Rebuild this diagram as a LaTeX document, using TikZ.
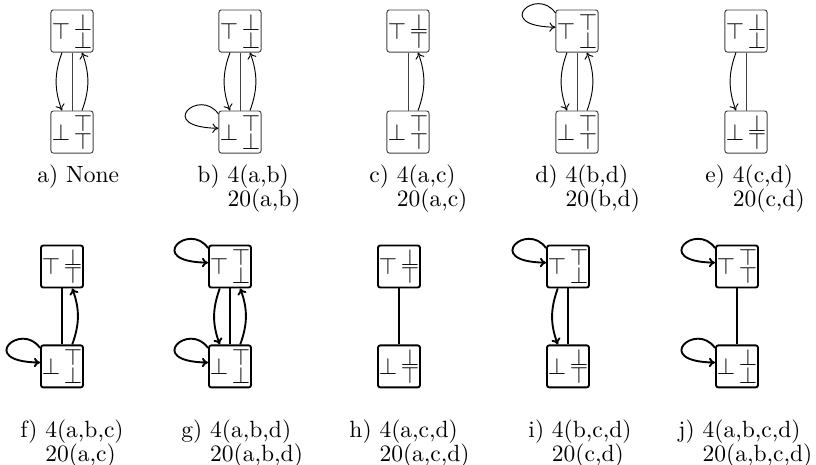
\documentclass[tikz,border=0pt]{standalone}
\usepackage{amsmath,amssymb}
\usepackage{tikz}
\usetikzlibrary{arrows.meta,positioning}

\newcommand{\tbsym}[1]{\if#1t\top\else\bot\fi}
\newcommand{\cellstk}[2]{\vcenter{\offinterlineskip\hbox{$\tbsym{#1}$}\kern0.6pt\hbox{$\tbsym{#2}$}}}
\newcommand{\cellone}[1]{\vcenter{\hbox{$#1$}}}
\newcommand{\caselbl}[3]{\begin{tabular}[t]{@{}l@{ }l@{}}#1) & #2\\ & #3\end{tabular}}
\renewcommand{\arraystretch}{0.8}

\begin{document}
\begin{tikzpicture}[
  x=0.4255pt,y=0.4255pt,
  node distance=24.7pt,
  cell/.style={draw=black!75,rounded corners=1pt,minimum size=17.9pt,inner sep=0pt},
  arrow/.style={-{To[length=2.6pt,width=4pt]}},
  lbl/.style={anchor=base west,inner sep=0pt}
]
\useasboundingbox (0,0) rectangle (816,-464);
% top row
\foreach \n/\x/\p/\q/\r/\s in {a/72/b/b/t/t,b/240/b/b/t/b,c/408/b/t/t/t,d/577/t/b/t/t,e/746/b/b/b/t}{
  \node[cell] (\n1) at (\x,-31) {$\cellone{\top}\,\cellstk{\p}{\q}$};
  \node[cell,below=of \n1] (\n2) {$\cellone{\bot}\,\cellstk{\r}{\s}$};
  \draw[black!75] (\n1) -- (\n2);
}
\foreach \n in {a,b,d,e}
  \draw[arrow] (\n1.-115) to[bend right=20] (\n2.115);
\foreach \n in {a,b,c,d}
  \draw[arrow] (\n2.65) to[bend right=20] (\n1.-65);
\foreach \m in {b2,d1}
  \draw[arrow] (\m.140) .. controls +(-19,27) and +(-64,1) .. (\m.170);
% bottom row
\begin{scope}[line width=0.8pt,node distance=23.8pt,cell/.append style={draw=black}]
\foreach \n/\x/\p/\q/\r/\s in {f/62/b/t/t/b,g/230/t/b/t/b,h/399/b/t/b/t,i/568/t/b/b/t,j/737/t/t/b/b}{
  \node[cell] (\n1) at (\x,-266.5) {$\cellone{\top}\,\cellstk{\p}{\q}$};
  \node[cell,below=of \n1] (\n2) {$\cellone{\bot}\,\cellstk{\r}{\s}$};
  \draw (\n1) -- (\n2);
}
\foreach \n in {g,i}
  \draw[arrow] (\n1.-115) to[bend right=20] (\n2.115);
\foreach \n in {f,g}
  \draw[arrow] (\n2.65) to[bend right=20] (\n1.-65);
\foreach \m in {f2,g1,g2,i1,j1,j2}
  \draw[arrow] (\m.140) .. controls +(-19,27) and +(-64,1) .. (\m.170);
\end{scope}
% captions
\node[lbl] (la) at (37,-182) {a) None};
\node[lbl] (lb) at (197,-182) {\caselbl{b}{4(a,b)}{20(a,b)}};
\node[lbl] (lc) at (369,-182) {\caselbl{c}{4(a,c)}{20(a,c)}};
\node[lbl] (ld) at (535,-182) {\caselbl{d}{4(b,d)}{20(b,d)}};
\node[lbl] (le) at (705,-182) {\caselbl{e}{4(c,d)}{20(c,d)}};
\node[lbl] (lf) at (20,-437) {\caselbl{f}{4(a,b,c)}{20(a,c)}};
\node[lbl] (lg) at (181,-437) {\caselbl{g}{4(a,b,d)}{20(a,b,d)}};
\node[lbl] (lh) at (349,-437) {\caselbl{h}{4(a,c,d)}{20(a,c,d)}};
\node[lbl] (li) at (528,-437) {\caselbl{i}{4(b,c,d)}{20(c,d)}};
\node[lbl] (lj) at (678,-437) {\caselbl{j}{4(a,b,c,d)}{20(a,b,c,d)}};
\end{tikzpicture}
\end{document}
